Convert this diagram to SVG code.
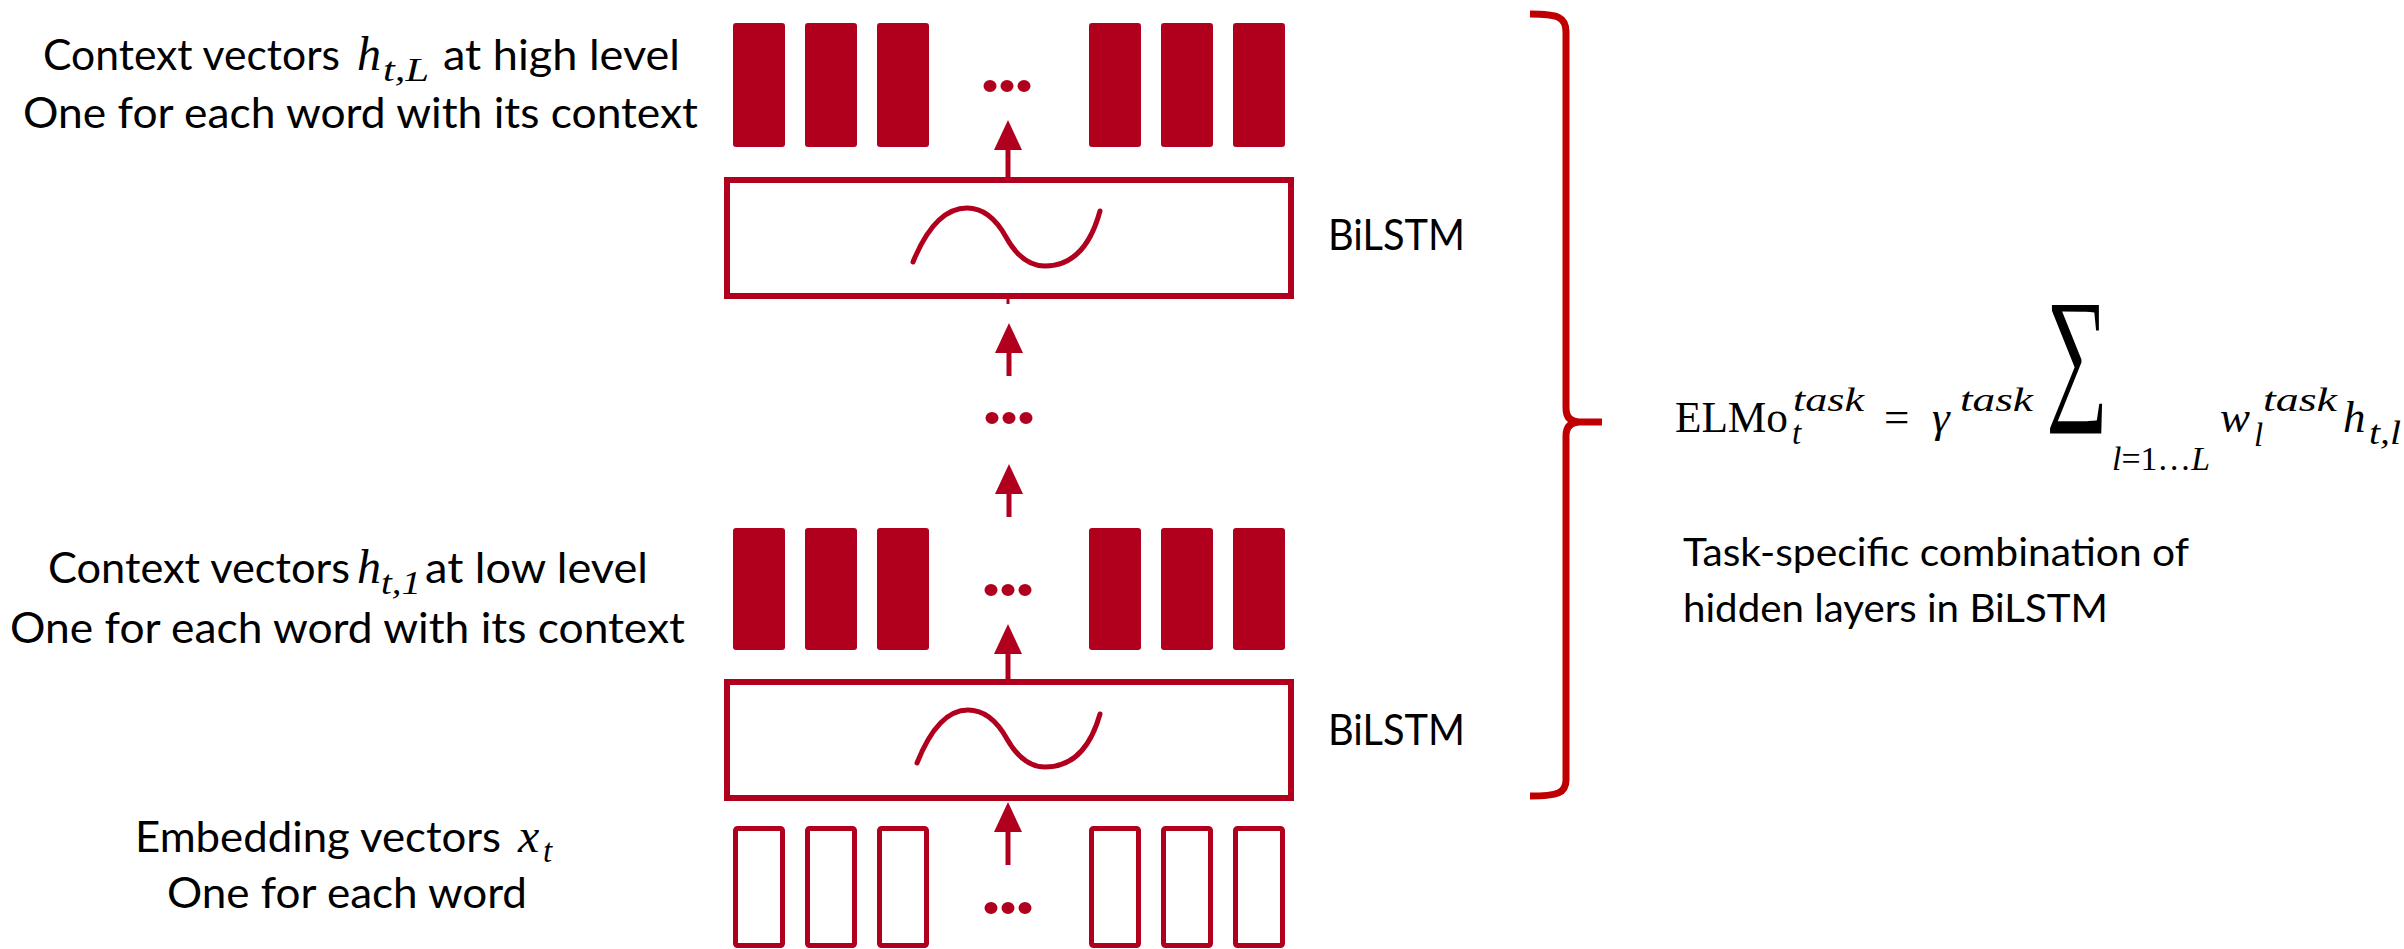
<svg xmlns="http://www.w3.org/2000/svg" width="2404" height="949" viewBox="0 0 2404 949">
<defs>
<style>
.bar{fill:#B0001E}
.ebar{fill:none;stroke:#B0001E;stroke-width:5}
.box{fill:none;stroke:#B0001E;stroke-width:6}
.wave{fill:none;stroke:#B0001E;stroke-width:5;stroke-linecap:round}
.dot{fill:#B0001E}
.shaft{stroke:#B0001E;stroke-width:5;fill:none}
.lbl{font-family:Lato,"Open Sans",sans-serif;font-size:42px;fill:#000}
.rt{font-family:Lato,"Open Sans",sans-serif;font-size:39px;fill:#000}
.mi{font-family:"Liberation Serif","DejaVu Serif",serif;font-style:italic;fill:#000}
.m{font-family:"Liberation Serif","DejaVu Serif",serif;font-size:45px;fill:#000}
.ms{font-family:"Liberation Serif","DejaVu Serif",serif;font-style:italic;font-size:33px;fill:#000}
.brace{fill:none;stroke:#C00000;stroke-width:7}
</style>
<marker id="ah" viewBox="0 0 30 28" refX="0" refY="14" markerWidth="30" markerHeight="28" orient="auto" markerUnits="userSpaceOnUse">
<path d="M0,0 L30,14 L0,28 Z" fill="#B0001E"/>
</marker>
</defs>
<rect width="2404" height="949" fill="#fff"/>

<g id="label-high">
<text class="lbl" x="43" y="70" textLength="297" lengthAdjust="spacingAndGlyphs">Context vectors</text>
<text class="mi" x="357" y="70" font-size="48">h</text>
<text class="ms" x="383" y="81" textLength="46" lengthAdjust="spacingAndGlyphs">t,L</text>
<text class="lbl" x="443" y="70" textLength="237" lengthAdjust="spacingAndGlyphs">at high level</text>
<text class="lbl" x="23" y="128" textLength="675" lengthAdjust="spacingAndGlyphs">One for each word with its context</text>
</g>

<g id="label-low">
<text class="lbl" x="48" y="583" textLength="302" lengthAdjust="spacingAndGlyphs">Context vectors</text>
<text class="mi" x="357" y="583" font-size="48">h</text>
<text class="ms" x="381" y="594" textLength="40" lengthAdjust="spacingAndGlyphs">t,1</text>
<text class="lbl" x="425" y="583" textLength="223" lengthAdjust="spacingAndGlyphs">at low level</text>
<text class="lbl" x="10" y="643" textLength="675" lengthAdjust="spacingAndGlyphs">One for each word with its context</text>
</g>

<g id="label-embed">
<text class="lbl" x="135" y="852" textLength="366" lengthAdjust="spacingAndGlyphs">Embedding vectors</text>
<text class="mi" x="518" y="852" font-size="48">x</text>
<text class="ms" x="543" y="862">t</text>
<text class="lbl" x="167" y="908" textLength="360" lengthAdjust="spacingAndGlyphs">One for each word</text>
</g>

<g id="vectors-high">
<rect class="bar" x="733" y="23" width="52" height="124" rx="3"/>
<rect class="bar" x="805" y="23" width="52" height="124" rx="3"/>
<rect class="bar" x="877" y="23" width="52" height="124" rx="3"/>
<ellipse class="dot" cx="990" cy="86" rx="6.5" ry="6"/>
<ellipse class="dot" cx="1007" cy="86" rx="6.5" ry="6"/>
<ellipse class="dot" cx="1024" cy="86" rx="6.5" ry="6"/>
<rect class="bar" x="1089" y="23" width="52" height="124" rx="3"/>
<rect class="bar" x="1161" y="23" width="52" height="124" rx="3"/>
<rect class="bar" x="1233" y="23" width="52" height="124" rx="3"/>
</g>

<g id="bilstm-high">
<rect class="box" x="727" y="180" width="564" height="116"/>
<path class="wave" d="M913,262 Q935,208 967,208 Q990,208 1006,237 Q1022,266 1045,266 Q1085,266 1100,211"/>
<text class="lbl" x="1328" y="250" textLength="137" lengthAdjust="spacingAndGlyphs">BiLSTM</text>
</g>

<g id="layers-ellipsis">
<ellipse class="dot" cx="992" cy="418" rx="6.5" ry="6"/>
<ellipse class="dot" cx="1009" cy="418" rx="6.5" ry="6"/>
<ellipse class="dot" cx="1026" cy="418" rx="6.5" ry="6"/>
</g>

<g id="vectors-low">
<rect class="bar" x="733" y="528" width="52" height="122" rx="3"/>
<rect class="bar" x="805" y="528" width="52" height="122" rx="3"/>
<rect class="bar" x="877" y="528" width="52" height="122" rx="3"/>
<ellipse class="dot" cx="991" cy="590" rx="6.5" ry="6"/>
<ellipse class="dot" cx="1008" cy="590" rx="6.5" ry="6"/>
<ellipse class="dot" cx="1025" cy="590" rx="6.5" ry="6"/>
<rect class="bar" x="1089" y="528" width="52" height="122" rx="3"/>
<rect class="bar" x="1161" y="528" width="52" height="122" rx="3"/>
<rect class="bar" x="1233" y="528" width="52" height="122" rx="3"/>
</g>

<g id="bilstm-low">
<rect class="box" x="727" y="682" width="564" height="116"/>
<path class="wave" d="M917,763 Q938,710 968,710 Q991,710 1007,739 Q1023,767 1045,767 Q1085,767 1100,714"/>
<text class="lbl" x="1328" y="745" textLength="137" lengthAdjust="spacingAndGlyphs">BiLSTM</text>
</g>

<g id="embeddings">
<rect class="ebar" x="735.5" y="828.5" width="47" height="117" rx="2"/>
<rect class="ebar" x="807.5" y="828.5" width="47" height="117" rx="2"/>
<rect class="ebar" x="879.5" y="828.5" width="47" height="117" rx="2"/>
<ellipse class="dot" cx="991" cy="908" rx="6.5" ry="6"/>
<ellipse class="dot" cx="1008" cy="908" rx="6.5" ry="6"/>
<ellipse class="dot" cx="1025" cy="908" rx="6.5" ry="6"/>
<rect class="ebar" x="1091.5" y="828.5" width="47" height="117" rx="2"/>
<rect class="ebar" x="1163.5" y="828.5" width="47" height="117" rx="2"/>
<rect class="ebar" x="1235.5" y="828.5" width="47" height="117" rx="2"/>
</g>

<g id="connectors">
<line class="shaft" x1="1008" y1="180" x2="1008" y2="150" marker-end="url(#ah)"/>
<line x1="1008" y1="296" x2="1008" y2="304" stroke="#B0001E" stroke-width="3"/>
<line class="shaft" x1="1009" y1="376" x2="1009" y2="353" marker-end="url(#ah)"/>
<line class="shaft" x1="1009" y1="517" x2="1009" y2="494" marker-end="url(#ah)"/>
<line class="shaft" x1="1008" y1="682" x2="1008" y2="654" marker-end="url(#ah)"/>
<line class="shaft" x1="1008" y1="865" x2="1008" y2="832" marker-end="url(#ah)"/>
</g>

<g id="brace">
<path class="brace" d="M1530,14 C1558,14 1566,17 1566,32 L1566,408 Q1566,422 1580,422 L1602,422 M1602,422 L1580,422 Q1566,422 1566,436 L1566,780 C1566,793 1558,796 1530,796"/>
</g>

<g id="formula">
<text class="m" x="1675" y="432" textLength="113" lengthAdjust="spacingAndGlyphs">ELMo</text>
<text class="ms" x="1792" y="444">t</text>
<text class="ms" x="1793" y="411" textLength="71" lengthAdjust="spacingAndGlyphs">task</text>
<text class="m" x="1884" y="432">=</text>
<text class="m" x="1932" y="432" font-style="italic">γ</text>
<text class="ms" x="1960" y="411" textLength="73" lengthAdjust="spacingAndGlyphs">task</text>
<text x="2046" y="402" font-family="'Liberation Serif','DejaVu Serif',serif" font-size="148" textLength="62" lengthAdjust="spacingAndGlyphs">∑</text>
<text x="2112" y="470" font-family="'Liberation Serif','DejaVu Serif',serif" font-size="33" textLength="98" lengthAdjust="spacingAndGlyphs"><tspan font-style="italic">l</tspan>=1…<tspan font-style="italic">L</tspan></text>
<text class="mi" x="2220" y="432" font-size="45">w</text>
<text class="ms" x="2254" y="446">l</text>
<text class="ms" x="2263" y="411" textLength="74" lengthAdjust="spacingAndGlyphs">task</text>
<text class="mi" x="2343" y="432" font-size="45">h</text>
<text class="ms" x="2369" y="444" textLength="32" lengthAdjust="spacingAndGlyphs">t,l</text>
</g>

<g id="formula-caption">
<text class="rt" x="1683" y="566" textLength="506" lengthAdjust="spacingAndGlyphs">Task-specific combination of</text>
<text class="rt" x="1683" y="622" textLength="425" lengthAdjust="spacingAndGlyphs">hidden layers in BiLSTM</text>
</g>
</svg>
